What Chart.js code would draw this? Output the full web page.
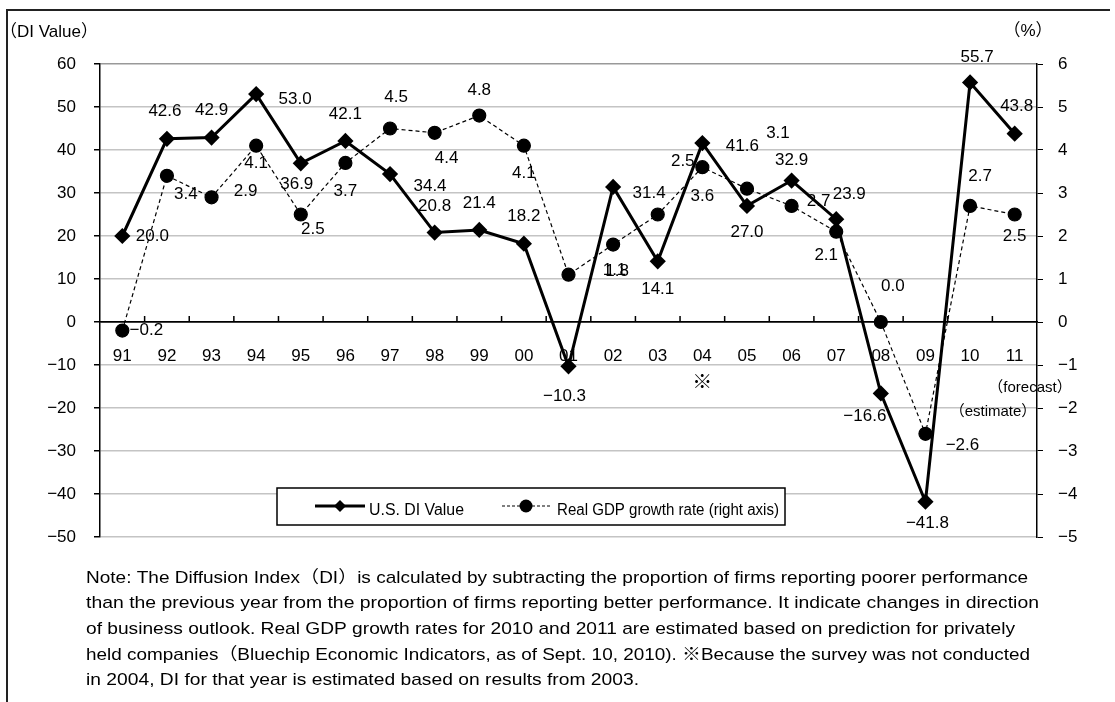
<!DOCTYPE html>
<html>
<head>
<meta charset="utf-8">
<script src="https://cdn.jsdelivr.net/npm/chart.js@4.4.1/dist/chart.umd.min.js"></script>
<style>
  html, body { margin: 0; padding: 0; background: #fff; }
  #wrap { position: relative; width: 1115px; height: 702px; }
  canvas { position: absolute; left: 0; top: 0; }
</style>
</head>
<body>
<div id="wrap"><canvas id="chart" width="1115" height="702"></canvas></div>
<script>
// values
const years = ["91", "92", "93", "94", "95", "96", "97", "98", "99", "00", "01", "02", "03", "04", "05", "06", "07", "08", "09", "10", "11"];
const diValues = [20.0, 42.6, 42.9, 53.0, 36.9, 42.1, 34.4, 20.8, 21.4, 18.2, -10.3, 31.4, 14.1, 41.6, 27.0, 32.9, 23.9, -16.6, -41.8, 55.7, 43.8];
const gdpValues = [-0.2, 3.4, 2.9, 4.1, 2.5, 3.7, 4.5, 4.4, 4.8, 4.1, 1.1, 1.8, 2.5, 3.6, 3.1, 2.7, 2.1, 0.0, -2.6, 2.7, 2.5];

const seriesNames = ["U.S. DI Value", "Real GDP growth rate (right axis)"];
const noteLines = [
  "Note: The Diffusion Index（DI）is calculated by subtracting the proportion of firms reporting poorer performance",
  "than the previous year from the proportion of firms reporting better performance. It indicate changes in direction",
  "of business outlook. Real GDP growth rates for 2010 and 2011 are estimated based on prediction for privately",
  "held companies（Bluechip Economic Indicators, as of Sept. 10, 2010). ※Because the survey was not conducted",
  "in 2004, DI for that year is estimated based on results from 2003."
];

// label nudges (px) relative to each marker, mimicking the hand-placed labels
const diLabelNudge = [[30,0],[-2,-28],[0,-27],[39,5],[-4,21],[0,-27],[40,12],[0,-26],[0,-27],[0,-27],[-4,30],[36,6],[0,28],[40,3],[0,26],[0,-20],[13,-25],[-16,23],[2,22],[7,-25],[2,-27]];
const gdpLabelNudge = [[24,0],[19,19],[34,-6],[0,18],[12,15],[0,28],[6,-31],[12,26],[0,-25],[0,28],[46,-4],[4,27],[25,-53],[0,29],[31,-55],[27,-5],[-10,24],[12,-36],[37,12],[10,-30],[0,22]];

const FONT = "'Liberation Sans', 'Noto Sans CJK JP', sans-serif";
const GRID = "#c4c4c4";

function fmt(v) {
  const s = Math.abs(v).toFixed(1);
  return v < 0 ? "\u2212" + s : s;
}
function fmtTick(v) {
  return v < 0 ? "\u2212" + Math.abs(v) : String(v);
}

// draw text squeezed/stretched to a given width
function fitText(ctx, text, x, y, width) {
  const w = ctx.measureText(text).width;
  ctx.save();
  ctx.translate(x, y);
  ctx.scale(width / w, 1);
  ctx.fillText(text, 0, 0);
  ctx.restore();
}

const extras = {
  id: "extras",
  beforeDraw(chart) {
    const ctx = chart.ctx;
    ctx.save();
    ctx.fillStyle = "#fff";
    ctx.fillRect(0, 0, chart.width, chart.height);
    // outer frame (left and top only)
    ctx.strokeStyle = "#222";
    ctx.lineWidth = 2;
    ctx.beginPath();
    ctx.moveTo(7, 702);
    ctx.lineTo(7, 10);
    ctx.lineTo(1110, 10);
    ctx.stroke();
    ctx.fillStyle = "#000";
    ctx.font = "17px " + FONT;
    ctx.textBaseline = "middle";
    ctx.textAlign = "left";
    ctx.fillText("（DI Value）", 0, 32);
    ctx.textAlign = "center";
    ctx.fillText("（%）", 1028, 31);
    ctx.restore();
  },
  afterDatasetsDraw(chart) {
    const ctx = chart.ctx;
    const x = chart.scales.x;
    const yZero = chart.scales.y.getPixelForValue(0);
    ctx.save();
    // upward tick marks on the category axis
    ctx.strokeStyle = "#000";
    ctx.lineWidth = 1.5;
    ctx.beginPath();
    for (let i = 1; i < years.length; i++) {
      const px = (x.getPixelForValue(i - 1) + x.getPixelForValue(i)) / 2;
      ctx.moveTo(px, yZero);
      ctx.lineTo(px, yZero - 6);
    }
    ctx.stroke();

    // value labels
    ctx.fillStyle = "#000";
    ctx.font = "17px " + FONT;
    ctx.textAlign = "center";
    ctx.textBaseline = "middle";
    const diMeta = chart.getDatasetMeta(0);
    const gdpMeta = chart.getDatasetMeta(1);
    gdpMeta.data.forEach((pt, i) => {
      ctx.fillText(fmt(gdpValues[i]), pt.x + gdpLabelNudge[i][0], pt.y + gdpLabelNudge[i][1]);
    });
    diMeta.data.forEach((pt, i) => {
      ctx.fillText(fmt(diValues[i]), pt.x + diLabelNudge[i][0], pt.y + diLabelNudge[i][1]);
    });

    // annotations
    ctx.font = "20px " + FONT;
    ctx.fillText("※", x.getPixelForValue(13), 383);
    ctx.font = "15px " + FONT;
    ctx.fillText("（forecast）", 1030, 388);
    ctx.fillText("（estimate）", 993, 412);

    // legend box
    ctx.fillStyle = "#fff";
    ctx.fillRect(277, 488, 508, 37);
    ctx.strokeStyle = "#000";
    ctx.lineWidth = 1.5;
    ctx.strokeRect(277, 488, 508, 37);
    const ly = 506;
    ctx.lineWidth = 3;
    ctx.beginPath();
    ctx.moveTo(315, ly);
    ctx.lineTo(365, ly);
    ctx.stroke();
    ctx.fillStyle = "#000";
    ctx.beginPath();
    ctx.moveTo(340, ly - 6); ctx.lineTo(346, ly); ctx.lineTo(340, ly + 6); ctx.lineTo(334, ly);
    ctx.closePath();
    ctx.fill();
    ctx.lineWidth = 1.2;
    ctx.setLineDash([3, 2]);
    ctx.beginPath();
    ctx.moveTo(502, ly);
    ctx.lineTo(551, ly);
    ctx.stroke();
    ctx.setLineDash([]);
    ctx.beginPath();
    ctx.arc(526, ly, 6.5, 0, Math.PI * 2);
    ctx.fill();
    ctx.font = "16px " + FONT;
    ctx.textAlign = "left";
    fitText(ctx, seriesNames[0], 369, 511, 95);
    fitText(ctx, seriesNames[1], 557, 511, 222);

    // note text
    const targets = [942, 953, 929, 944, 553];
    ctx.font = "17px " + FONT;
    noteLines.forEach((line, i) => fitText(ctx, line, 86, 578 + i * 25.7, targets[i]));
    ctx.restore();
  }
};

new Chart(document.getElementById("chart"), {
  type: "line",
  data: {
    labels: years,
    datasets: [
      {
        label: seriesNames[0],
        data: diValues,
        yAxisID: "y",
        borderColor: "#000",
        backgroundColor: "#000",
        borderWidth: 3,
        pointStyle: "rectRot",
        pointRadius: 6,
        pointHoverRadius: 6,
        tension: 0
      },
      {
        label: seriesNames[1],
        data: gdpValues,
        yAxisID: "y1",
        borderColor: "#000",
        backgroundColor: "#000",
        borderWidth: 1.2,
        borderDash: [4, 3],
        pointStyle: "circle",
        pointRadius: 6.5,
        pointHoverRadius: 6.5,
        tension: 0
      }
    ]
  },
  options: {
    responsive: false,
    animation: false,
    devicePixelRatio: 1,
    layout: { padding: { top: 64, bottom: 165, left: 0, right: 0 } },
    plugins: { legend: { display: false }, tooltip: { enabled: false } },
    scales: {
      x: {
        type: "category",
        offset: true,
        position: { y: 0 },
        grid: { drawOnChartArea: false, drawTicks: false },
        border: { display: true, color: "#000", width: 1.5 },
        ticks: { color: "#000", font: { family: FONT, size: 17 }, padding: 24, maxRotation: 0, autoSkip: false }
      },
      y: {
        position: "left",
        min: -50,
        max: 60,
        ticks: { stepSize: 10, color: "#000", font: { family: FONT, size: 17 }, padding: 18, callback: fmtTick },
        grid: {
          color: (c) => c.tick && c.tick.value === 0 ? "#000" : (c.tick && c.tick.value === 60 ? "#999" : GRID),
          lineWidth: 1.5,
          tickColor: "#000",
          tickLength: 6
        },
        border: { color: "#000", width: 1.5 },
        afterFit(scale) { scale.width = 100; }
      },
      y1: {
        position: "right",
        min: -5,
        max: 6,
        ticks: { stepSize: 1, color: "#000", font: { family: FONT, size: 17 }, padding: 15, callback: fmtTick },
        grid: { drawOnChartArea: false, tickColor: "#000", tickLength: 6 },
        border: { color: "#000", width: 1.5 },
        afterFit(scale) { scale.width = 78; }
      }
    }
  },
  plugins: [extras]
});
</script>
</body>
</html>
